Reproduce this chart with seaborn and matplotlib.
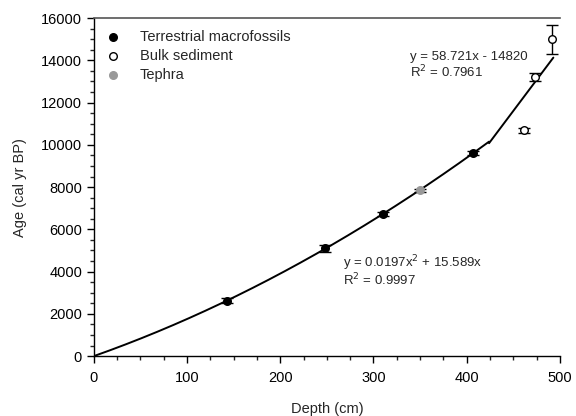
import numpy as np
import pandas as pd
import matplotlib
matplotlib.use('Agg')
import matplotlib.pyplot as plt
import seaborn as sns
from matplotlib.ticker import MultipleLocator

sns.set_style('ticks')
plt.rcParams['font.family'] = ['Liberation Sans', 'DejaVu Sans']

# data
terr_depth = [143, 248, 310, 407]
terr_age = [2620, 5100, 6720, 9620]
terr_err = [120, 150, 100, 100]

bulk_depth = [461, 473, 492]
bulk_age = [10700, 13200, 15000]
bulk_err = [120, 200, 680]

teph_depth = [350]
teph_age = [7850]
teph_err = [80]

# fitted lines as printed on the chart
quad_coef = [0.0197, 15.589]      # y = a*x^2 + b*x
lin_coef = [58.721, -14820]       # y = m*x + c
quad_range = [0, 424]
lin_range = [424, 493]

fig = plt.figure(figsize=(5.76, 4.16), dpi=100)
ax = fig.add_axes([0.163, 0.144, 0.809, 0.8125])

# fitted curves
xq = np.linspace(quad_range[0], quad_range[1], 200)
yq = quad_coef[0] * xq ** 2 + quad_coef[1] * xq
xl = np.array(lin_range)
yl = lin_coef[0] * xl + lin_coef[1]
sns.lineplot(x=xq, y=yq, ax=ax, color='black', lw=1.4, zorder=2)
sns.lineplot(x=xl, y=yl, ax=ax, color='black', lw=1.4, zorder=2)

# error bars
for d, a, e in [(terr_depth, terr_age, terr_err),
                (bulk_depth, bulk_age, bulk_err),
                (teph_depth, teph_age, teph_err)]:
    ax.errorbar(d, a, yerr=e, fmt='none', ecolor='black', elinewidth=1,
                capsize=4.5, capthick=1, zorder=3)

# points
pts = pd.DataFrame({
    'depth': terr_depth + bulk_depth + teph_depth,
    'age': terr_age + bulk_age + teph_age,
    'type': ['Terrestrial macrofossils'] * len(terr_depth)
            + ['Bulk sediment'] * len(bulk_depth)
            + ['Tephra'] * len(teph_depth),
})
styles = {'Terrestrial macrofossils': ('black', 'black'),
          'Bulk sediment': ('white', 'black'),
          'Tephra': ('#999999', '#999999')}
for name, (fc, ec) in styles.items():
    sub = pts[pts['type'] == name]
    sns.scatterplot(data=sub, x='depth', y='age', ax=ax, s=30, color=fc,
                    edgecolor=ec, linewidth=1, label=name, zorder=4)

ax.set_xlim(0, 500)
ax.set_ylim(0, 16000)
ax.xaxis.set_major_locator(MultipleLocator(100))
ax.xaxis.set_minor_locator(MultipleLocator(25))
ax.yaxis.set_major_locator(MultipleLocator(2000))
ax.yaxis.set_minor_locator(MultipleLocator(500))
ax.tick_params(which='major', direction='out', length=5, width=1, labelsize=10.5,
               colors='black')
ax.tick_params(which='minor', direction='out', length=3, width=1)
ax.tick_params(axis='x', pad=6)

for s in ['left', 'bottom']:
    ax.spines[s].set_color('black')
    ax.spines[s].set_linewidth(1)
ax.spines['top'].set_color('#555555')
ax.spines['top'].set_linewidth(1.2)
ax.spines['right'].set_visible(False)

ax.set_xlabel('Depth (cm)', fontsize=10.5, labelpad=12)
ax.set_ylabel('Age (cal yr BP)', fontsize=10.5, labelpad=10)

ax.text(339, 14170, 'y = 58.721x - 14820', fontsize=9.5, va='center')
ax.text(339, 13460, 'R$^2$ = 0.7961', fontsize=9.5, va='center')
ax.text(267, 4400, 'y = 0.0197x$^2$ + 15.589x', fontsize=9.5, va='center')
ax.text(267, 3600, 'R$^2$ = 0.9997', fontsize=9.5, va='center')

ax.legend(loc='upper left', frameon=False, fontsize=10.5, handletextpad=0.85,
          borderaxespad=0.3, labelspacing=0.35, markerscale=1,
          bbox_to_anchor=(-0.013, 0.995))

fig.savefig('out.png', dpi=100)
